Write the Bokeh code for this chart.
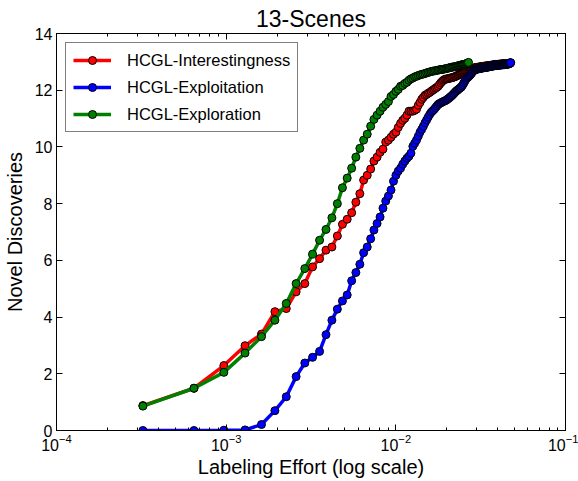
from bokeh.plotting import figure
from bokeh.models import (LogAxis, LinearAxis, LogTicker, FixedTicker, Legend,
                          LegendItem, Range1d, ColumnDataSource)
from bokeh.embed import file_html
from bokeh.resources import INLINE

# labeling effort contributed by one query (fraction of the data set)
effort_per_query = 3.23e-4

series_names = ["HCGL-Interestingness", "HCGL-Exploitation", "HCGL-Exploration"]
series_colors = ["#ff0000", "#0000ff", "#008000"]

interestingness = [
    0.88, 1.49, 2.29, 2.99, 3.40, 4.19, 4.30, 4.89, 5.18, 5.77,
    6.06, 6.36, 6.47, 6.86, 7.27, 7.45, 7.68, 8.05, 8.35, 8.83,
    9.00, 9.22, 9.50, 9.64, 9.81, 9.92, 10.17, 10.24, 10.34, 10.45,
    10.52, 10.69, 10.83, 10.94, 11.01, 11.12, 11.26, 11.26, 11.26, 11.29,
    11.33, 11.47, 11.57, 11.68, 11.75, 11.82, 11.85, 11.89, 11.92, 11.96,
    12.00, 12.03, 12.07, 12.10, 12.14, 12.20, 12.26, 12.31, 12.35, 12.38,
    12.39, 12.40, 12.41, 12.42, 12.43, 12.44, 12.45, 12.46, 12.48, 12.49,
    12.51, 12.53, 12.55, 12.57, 12.59, 12.60, 12.62, 12.63, 12.65, 12.66,
    12.67, 12.69, 12.70, 12.72, 12.73, 12.74, 12.75, 12.77, 12.78, 12.79,
    12.79, 12.80, 12.80, 12.81, 12.81, 12.82, 12.82, 12.83, 12.83, 12.84,
    12.84, 12.84, 12.85, 12.85, 12.85, 12.86, 12.86, 12.86, 12.87, 12.87,
    12.87, 12.88, 12.88, 12.88, 12.89, 12.89, 12.90, 12.90, 12.90, 12.91,
    12.91, 12.91, 12.91, 12.91, 12.91, 12.92, 12.92, 12.92, 12.92, 12.92,
    12.93, 12.93, 12.93, 12.93, 12.93, 12.94, 12.94, 12.94, 12.94, 12.94,
    12.94, 12.95, 12.95, 12.95, 12.95, 12.96, 12.97,
]

exploitation = [
    0.00, 0.00, 0.01, 0.02, 0.21, 0.70, 1.19, 1.90, 2.38, 2.58,
    2.79, 3.38, 3.89, 4.28, 4.57, 4.78, 5.28, 5.57, 5.86, 6.27,
    6.47, 6.76, 7.07, 7.30, 7.53, 7.84, 8.09, 8.27, 8.48, 8.79,
    9.00, 9.15, 9.25, 9.39, 9.50, 9.60, 9.67, 9.78, 10.02, 10.13,
    10.24, 10.38, 10.52, 10.62, 10.73, 10.85, 10.95, 11.05, 11.14, 11.22,
    11.27, 11.32, 11.38, 11.44, 11.50, 11.53, 11.55, 11.58, 11.60, 11.62,
    11.64, 11.67, 11.70, 11.73, 11.77, 11.80, 11.84, 11.88, 11.92, 11.96,
    11.99, 12.02, 12.05, 12.08, 12.10, 12.15, 12.20, 12.26, 12.32, 12.38,
    12.42, 12.45, 12.48, 12.51, 12.54, 12.58, 12.62, 12.66, 12.69, 12.71,
    12.72, 12.73, 12.74, 12.75, 12.76, 12.76, 12.77, 12.77, 12.78, 12.78,
    12.79, 12.79, 12.80, 12.80, 12.80, 12.81, 12.81, 12.82, 12.82, 12.83,
    12.83, 12.84, 12.84, 12.85, 12.85, 12.86, 12.86, 12.86, 12.87, 12.87,
    12.87, 12.87, 12.88, 12.88, 12.88, 12.88, 12.89, 12.89, 12.89, 12.89,
    12.90, 12.90, 12.90, 12.90, 12.90, 12.91, 12.91, 12.91, 12.91, 12.92,
    12.92, 12.92, 12.93, 12.93, 12.94, 12.95, 12.97,
]

exploration = [
    0.86, 1.49, 2.05, 2.73, 3.31, 3.89, 4.48, 5.18, 5.71, 6.22,
    6.71, 7.09, 7.50, 8.00, 8.56, 8.90, 9.25, 9.64, 9.95, 10.24,
    10.45, 10.73, 10.97, 11.12, 11.26, 11.40, 11.50, 11.60, 11.78, 11.85,
    11.96, 12.03, 12.14, 12.17, 12.24, 12.28, 12.35, 12.40, 12.43, 12.47,
    12.49, 12.52, 12.54, 12.56, 12.57, 12.59, 12.61, 12.63, 12.64, 12.66,
    12.67, 12.68, 12.69, 12.70, 12.71, 12.72, 12.73, 12.73, 12.74, 12.75,
    12.76, 12.77, 12.78, 12.79, 12.80, 12.81, 12.82, 12.82, 12.83, 12.84,
    12.85, 12.86, 12.87, 12.88, 12.89, 12.90, 12.90, 12.91, 12.92, 12.93,
    12.94, 12.96, 12.98,
]

y_ticks = [0, 2, 4, 6, 8, 10, 12, 14]

FONT = "Liberation Sans"

p = figure(width=578, height=481, x_axis_type="log",
           x_range=Range1d(1e-4, 1e-1), y_range=Range1d(0, 14),
           output_backend="svg", toolbar_location=None,
           min_border_left=55, min_border_right=13,
           min_border_top=33, min_border_bottom=51)

p.title.text = "13-Scenes"
p.title.align = "center"
p.title.text_font = FONT
p.title.text_font_size = "23px"
p.title.text_font_style = "normal"
p.title.text_color = "black"
p.title.standoff = 3

p.xgrid.visible = False
p.ygrid.visible = False
p.outline_line_color = "black"
p.outline_line_width = 1
p.background_fill_color = "white"
p.border_fill_color = "white"


def style_axis(ax, show_labels, minor):
    ax.major_tick_in = 6
    ax.major_tick_out = 0
    ax.minor_tick_in = 3 if minor else 0
    ax.minor_tick_out = 0
    if not minor:
        ax.minor_tick_line_color = None
    ax.axis_line_color = "black"
    ax.major_tick_line_color = "black"
    ax.major_label_text_font = FONT
    ax.major_label_text_font_size = "16px"
    ax.major_label_text_color = "black"
    ax.axis_label_text_font = FONT
    ax.axis_label_text_font_size = "20px"
    ax.axis_label_text_font_style = "normal"
    ax.axis_label_text_color = "black"
    if not show_labels:
        ax.major_label_text_font_size = "0px"
        ax.major_label_text_color = None
        ax.major_label_standoff = 0


p.xaxis.ticker = LogTicker(desired_num_ticks=4, num_minor_ticks=10)
p.xaxis.axis_label = "Labeling Effort (log scale)"
p.xaxis.axis_label_standoff = 2
p.xaxis.major_label_standoff = 3
style_axis(p.xaxis[0], True, True)

p.yaxis.ticker = FixedTicker(ticks=y_ticks)
p.yaxis.axis_label = "Novel Discoveries"
p.yaxis.axis_label_standoff = 6
p.yaxis.major_label_standoff = 4
style_axis(p.yaxis[0], True, False)

top_axis = LogAxis(ticker=LogTicker(desired_num_ticks=4, num_minor_ticks=10))
style_axis(top_axis, False, True)
p.add_layout(top_axis, "above")

right_axis = LinearAxis(ticker=FixedTicker(ticks=y_ticks))
style_axis(right_axis, False, False)
p.add_layout(right_axis, "right")

items = []
for name, color, values in zip(series_names, series_colors,
                               [interestingness, exploitation, exploration]):
    xs = [effort_per_query * (i + 1) for i in range(len(values))]
    src = ColumnDataSource(dict(x=xs, y=values))
    ln = p.line("x", "y", source=src, line_color=color, line_width=3.5)
    sc = p.scatter("x", "y", source=src, size=8, fill_color=color,
                   line_color="black", line_width=1)
    items.append(LegendItem(label=name, renderers=[ln, sc]))

legend = Legend(items=items, location="top_left")
legend.margin = 9
legend.padding = 7
legend.spacing = 7
legend.glyph_width = 38
legend.glyph_height = 20
legend.label_height = 20
legend.label_standoff = 16
legend.label_text_font = FONT
legend.label_text_font_size = "16.5px"
legend.label_text_color = "black"
legend.border_line_color = "black"
legend.border_line_width = 1
legend.background_fill_alpha = 1.0
p.add_layout(legend, "center")

open("out.html", "w").write(file_html(p, INLINE))
